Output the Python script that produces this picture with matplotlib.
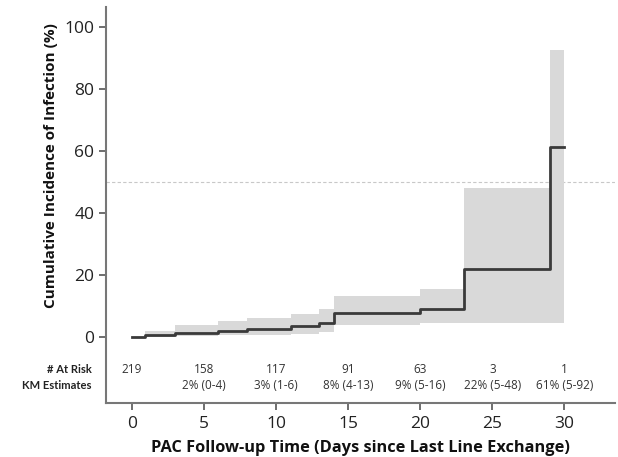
import matplotlib
matplotlib.use("Agg")
import matplotlib.pyplot as plt
import numpy as np

# Step times (days) and segment values (%)
step_times = [0, 0.9, 3.0, 6.0, 8.0, 11.0, 13.0, 14.0, 20.0, 23.0, 29.0, 30.0]
estimate = [0, 0.5, 1.4, 2.0, 2.6, 3.5, 4.6, 7.6, 9.0, 22.0, 61.3]
upper_ci = [0, 2.0, 4.0, 5.2, 6.2, 7.4, 8.9, 13.3, 15.4, 48.0, 92.5]
lower_ci = [0, 0.0, 0.2, 0.5, 0.8, 1.0, 1.7, 3.9, 4.4, 4.4, 4.4]

risk_days = [0, 5, 10, 15, 20, 25, 30]
at_risk = ["219", "158", "117", "91", "63", "3", "1"]
km_labels = ["", "2% (0-4)", "3% (1-6)", "8% (4-13)", "9% (5-16)", "22% (5-48)", "61% (5-92)"]

plt.rcParams['font.family'] = ['Open Sans', 'DejaVu Sans']

fig = plt.figure(figsize=(6.18, 4.57), dpi=100)
ax = fig.add_axes([0.1715, 0.118, 0.8235, 0.867])

t = np.array(step_times)
est = np.array(estimate + [estimate[-1]])
up = np.array(upper_ci + [upper_ci[-1]])
lo = np.array(lower_ci + [lower_ci[-1]])

ax.fill_between(t, lo, up, step='post', color='#d9d9d9', linewidth=0, zorder=1)
ax.step(t, est, where='post', color='#3a3a3a', linewidth=2.0, zorder=3)
ax.axhline(50, color='#c8c8c8', linestyle=(0, (3, 2)), linewidth=0.8, zorder=0)

ax.set_xlim(-1.8, 33.5)
ax.set_ylim(-21.3, 106.5)
ax.set_yticks([0, 20, 40, 60, 80, 100])
ax.set_xticks(risk_days)
ax.tick_params(axis='both', colors='#555555', labelcolor='#222222', labelsize=12.5,
               length=5, width=1.2)
ax.tick_params(axis='x', pad=4)

for s in ['top', 'right']:
    ax.spines[s].set_visible(False)
for s in ['left', 'bottom']:
    ax.spines[s].set_color('#777777')
    ax.spines[s].set_linewidth(1.5)

ax.set_ylabel('Cumulative Incidence of Infection (%)', fontsize=11,
              fontweight='bold', color='#111111')
ax.yaxis.set_label_coords(-0.095, 0.6)
ax.set_xlabel('PAC Follow-up Time (Days since Last Line Exchange)', fontsize=11.8,
              fontweight='bold', color='#111111', labelpad=6)

for d, n, km in zip(risk_days, at_risk, km_labels):
    ax.text(d, -10.5, n, ha='center', va='center', fontsize=8.5, color='#333333')
    if km:
        ax.text(d, -15.6, km, ha='center', va='center', fontsize=8.5, color='#333333')

ax.text(-2.8, -10.5, '# At Risk', ha='right', va='center', fontsize=8,
        fontweight='bold', color='#222222', family=['Lato', 'DejaVu Sans'])
ax.text(-2.8, -15.6, 'KM Estimates', ha='right', va='center', fontsize=8,
        fontweight='bold', color='#222222', family=['Lato', 'DejaVu Sans'])

fig.savefig('out.png', dpi=100)
